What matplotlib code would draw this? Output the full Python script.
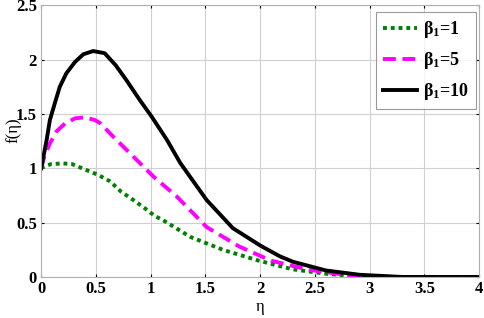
import numpy as np
import matplotlib.pyplot as plt
from matplotlib.ticker import FormatStrFormatter

# values
eta_b1 = [0, 0.02, 0.094, 0.2, 0.28, 0.4, 0.52, 0.63, 0.73, 0.84, 0.95, 1.04, 1.11, 1.36,
          1.66, 1.97, 2.18, 2.3, 2.6, 2.9, 3.2, 4.0]
f_b1 = [1.0, 1.015, 1.04, 1.045, 1.04, 0.99, 0.94, 0.88, 0.785, 0.71, 0.63, 0.56, 0.525, 0.37,
        0.25, 0.155, 0.10, 0.07, 0.03, 0.005, 0.0, 0.0]

eta_b5 = [0, 0.03, 0.08, 0.14, 0.22, 0.31, 0.40, 0.49, 0.54, 0.66, 0.78, 0.90, 1.03, 1.24,
          1.51, 1.81, 2.1, 2.45, 2.85, 3.2, 4.0]
f_b5 = [1.0, 1.11, 1.23, 1.34, 1.415, 1.46, 1.47, 1.445, 1.415, 1.29, 1.17, 1.05, 0.92, 0.74,
        0.46, 0.28, 0.15, 0.065, 0.01, 0.0, 0.0]

eta_b10 = [0, 0.05, 0.08, 0.125, 0.17, 0.23, 0.31, 0.385, 0.475, 0.58, 0.68, 0.78, 0.90,
           1.01, 1.15, 1.27, 1.51, 1.75, 2.0, 2.18, 2.3, 2.6, 2.91, 3.3, 4.0]
f_b10 = [1.0, 1.26, 1.445, 1.60, 1.75, 1.875, 1.98, 2.05, 2.08, 2.06, 1.95, 1.81, 1.63,
         1.475, 1.26, 1.05, 0.71, 0.45, 0.29, 0.19, 0.14, 0.06, 0.02, 0.0, 0.0]

labels = ['β$_1$=1', 'β$_1$=5', 'β$_1$=10']

plt.rcParams['font.family'] = 'Liberation Serif'
plt.rcParams['font.weight'] = 'bold'
plt.rcParams['mathtext.fontset'] = 'custom'
plt.rcParams['mathtext.rm'] = 'Liberation Serif:bold'
plt.rcParams['mathtext.default'] = 'regular'

fig = plt.figure(figsize=(4.84, 3.18), dpi=100)
ax = fig.add_axes([0.085, 0.129, 0.905, 0.854])

ax.plot(eta_b1, f_b1, color='#008000', linestyle=(0, (1, 1)), linewidth=2.8, label=labels[0])
ax.plot(eta_b5, f_b5, color='#ff00ff', linestyle=(0, (3.3, 1.7)), linewidth=2.8, label=labels[1])
ax.plot(eta_b10, f_b10, color='black', linestyle='-', linewidth=2.8, label=labels[2])

ax.set_xlim(0, 4)
ax.set_ylim(0, 2.5)
ax.set_xticks(np.arange(0, 4.01, 0.5))
ax.set_yticks(np.arange(0, 2.51, 0.5))
ax.xaxis.set_major_formatter(FormatStrFormatter('%g'))
ax.yaxis.set_major_formatter(FormatStrFormatter('%g'))
ax.grid(True, color='#d0d0d0', linewidth=0.8)
ax.tick_params(direction='in', length=2, top=True, right=True, labelsize=12, pad=3)
for s in ax.spines.values():
    s.set_color('#b0b0b0')
    s.set_linewidth(0.8)

ax.set_xlabel('η', fontsize=12, labelpad=1)
ax.set_ylabel('f(η)', fontsize=12, va='center')
ax.yaxis.set_label_coords(-0.064, 0.54)

leg = ax.legend(loc='upper right', bbox_to_anchor=(476 / 484, 1 - 12 / 318),
                bbox_transform=fig.transFigure, borderaxespad=0,
                fontsize=13, frameon=True, fancybox=False,
                edgecolor='#808080', handlelength=1.9, borderpad=0.4, labelspacing=0.55,
                handletextpad=0.3)
leg.get_frame().set_linewidth(0.8)

plt.savefig('out.png', dpi=100)
